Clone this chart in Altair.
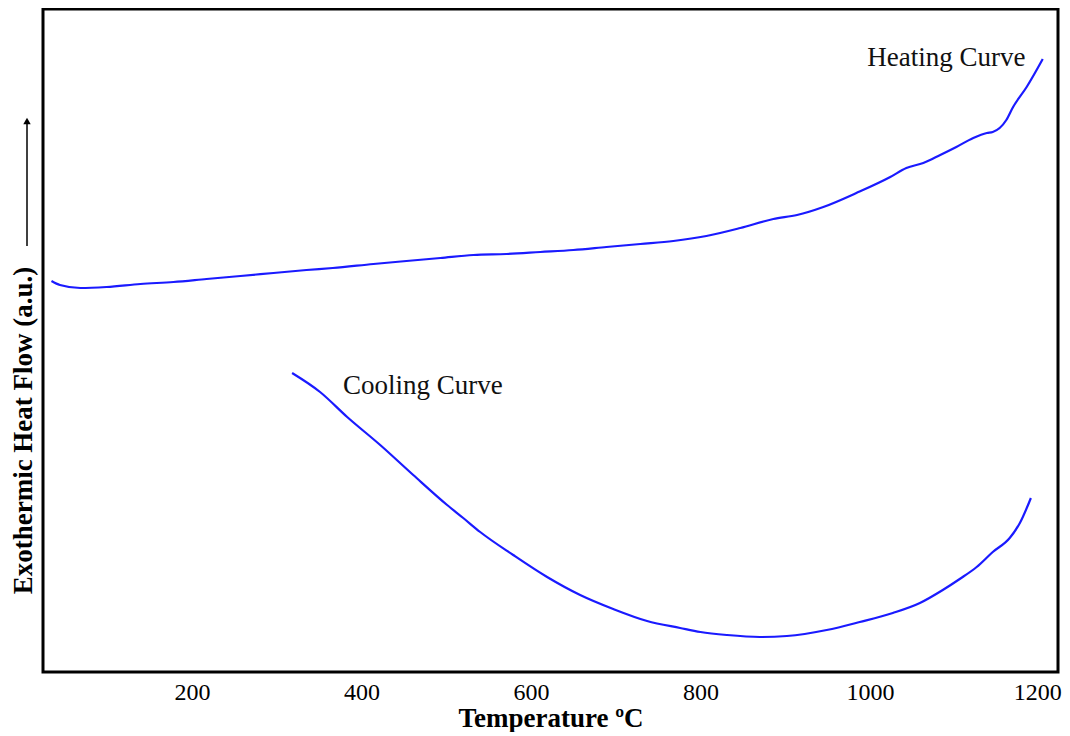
import altair as alt
import pandas as pd

# Heating curve (temperature in °C, heat flow in arbitrary units)
heat_T = [34, 44, 68, 99, 139, 178, 217, 257, 296, 335, 366, 414, 453, 493, 532, 571,
          611, 650, 689, 729, 768, 807, 847, 886, 914, 945, 984, 1024, 1043, 1063,
          1083, 1102, 1122, 1138, 1145, 1161, 1169, 1185, 1204]
heat_v = [39.1, 38.7, 38.4, 38.5, 38.8, 39.0, 39.3, 39.6, 39.9, 40.2, 40.4, 40.8, 41.1,
          41.4, 41.7, 41.8, 42.0, 42.2, 42.5, 42.8, 43.1, 43.6, 44.4, 45.3, 45.7, 46.5,
          47.9, 49.5, 50.4, 50.9, 51.7, 52.5, 53.4, 53.9, 54.0, 55.2, 56.5, 58.5, 61.3]

# Cooling curve
cool_T = [318, 351, 383, 422, 461, 501, 520, 540, 579, 619, 658, 697, 737, 776, 800,
          831, 870, 902, 949, 988, 1027, 1059, 1086, 1106, 1126, 1145, 1165, 1177, 1190]
cool_v = [29.9, 28.0, 25.5, 22.7, 19.7, 16.7, 15.4, 14.0, 11.7, 9.5, 7.7, 6.3, 5.1, 4.4,
          4.0, 3.7, 3.5, 3.6, 4.2, 5.0, 5.9, 6.9, 8.2, 9.3, 10.5, 12.0, 13.4, 14.9, 17.4]

x_ticks = [200, 400, 600, 800, 1000, 1200]

label_text = ["Heating Curve", "Cooling Curve"]
label_T = [997, 378]
label_v = [61.4, 28.6]

FONT = "Liberation Serif"

df = pd.concat([
    pd.DataFrame({"T": heat_T, "v": heat_v, "curve": "Heating", "order": range(len(heat_T))}),
    pd.DataFrame({"T": cool_T, "v": cool_v, "curve": "Cooling", "order": range(len(cool_T))}),
])
labels = pd.DataFrame({"T": label_T, "v": label_v, "text": label_text})

xs = alt.Scale(domain=[24, 1222], nice=False, zero=False)
ys = alt.Scale(domain=[0, 66.3], nice=False, zero=False)

x_axis = alt.Axis(values=x_ticks, format="d", title="Temperature ºC", grid=False, domain=False,
                  ticks=True, tickSize=0, labelPadding=8, labelFont=FONT, labelFontSize=24,
                  labelOffset=alt.condition("datum.value == 1200", alt.value(-2), alt.value(0)),
                  labelColor="black", labelFontWeight="normal",
                  titleFont=FONT, titleFontSize=27, titleFontWeight="bold",
                  titleColor="black", titlePadding=1)
y_axis = alt.Axis(labels=False, ticks=False, grid=False, domain=False,
                  title="Exothermic Heat Flow (a.u.)", titleFont=FONT, titleFontSize=27,
                  titleFontWeight="bold", titleColor="black", titleAngle=270,
                  titleAlign="center", titleBaseline="middle", titleX=-20, titleY=421)

lines = alt.Chart(df).mark_line(color="#1a1aff", strokeWidth=2.2, interpolate="monotone").encode(
    x=alt.X("T:Q", scale=xs, axis=x_axis),
    y=alt.Y("v:Q", scale=ys, axis=y_axis),
    detail="curve:N",
    order="order:Q",
)

texts = alt.Chart(labels).mark_text(align="left", baseline="middle", font=FONT,
                                     fontSize=27, color="#111111").encode(
    x=alt.X("T:Q", scale=xs), y=alt.Y("v:Q", scale=ys), text="text:N")

arrow_line = alt.Chart(pd.DataFrame({"a": [0]})).mark_rule(color="black", strokeWidth=1.5).encode(
    x=alt.value(-16), y=alt.value(237), y2=alt.value(114))
arrow_head = alt.Chart(pd.DataFrame({"a": [0]})).mark_point(
    shape="triangle-up", filled=True, color="black", size=55, opacity=1).encode(
    x=alt.value(-16), y=alt.value(112))

chart = alt.layer(lines, texts, arrow_line, arrow_head).properties(
    width=1015, height=663,
    background="white",
    autosize=alt.AutoSizeParams(type="none"),
    padding={"left": 35, "top": 1, "right": 4, "bottom": 60},
).configure_view(stroke="black", strokeWidth=3, fill="white")

chart.save("out.html", embed_options={"renderer": "svg", "actions": False})
